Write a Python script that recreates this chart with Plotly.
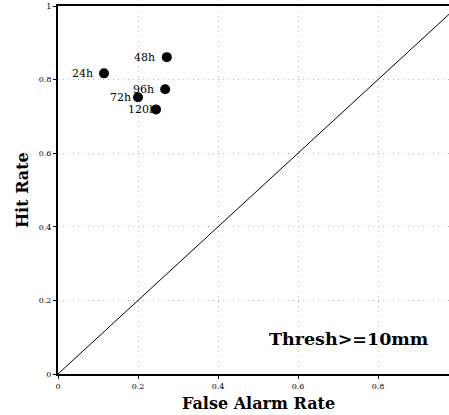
import plotly.graph_objects as go

# Forecast verification points: false alarm rate vs hit rate by lead time
lead_times = ["24h", "48h", "72h", "96h", "120h"]
false_alarm = [0.115, 0.272, 0.200, 0.268, 0.245]
hit_rate = [0.817, 0.861, 0.752, 0.774, 0.719]
label_shift = [-9, -10, -5, -9, 2]  # px offset of each label's right edge from its dot

x_ticks = [0, 0.2, 0.4, 0.6, 0.8]
y_ticks = [0, 0.2, 0.4, 0.6, 0.8, 1]

FONT = "DejaVu Serif"
GRID = dict(showgrid=True, gridcolor="#b8b8b8", griddash="1px,4px", gridwidth=1)

fig = go.Figure()

# no-skill diagonal
fig.add_trace(go.Scatter(
    x=[0, 1], y=[0, 1], mode="lines",
    line=dict(color="black", width=1), hoverinfo="skip", showlegend=False,
))

fig.add_trace(go.Scatter(
    x=false_alarm, y=hit_rate, mode="markers",
    marker=dict(color="black", size=10),
    text=lead_times, showlegend=False,
))

for lab, fx, hy, dx in zip(lead_times, false_alarm, hit_rate, label_shift):
    fig.add_annotation(
        x=fx, y=hy, text=lab, showarrow=False, xanchor="right", yanchor="middle",
        xshift=dx, font=dict(family=FONT, size=11, color="black"),
    )

fig.add_annotation(
    x=0.7275, y=0.095, text="Thresh>=10mm", showarrow=False,
    font=dict(family=FONT, size=17.5, color="black", weight="bold"),
)

# axis titles
fig.add_annotation(
    x=0.5, xref="x", y=0, yref="paper", yshift=-29, text="False Alarm Rate",
    showarrow=False, yanchor="middle",
    font=dict(family=FONT, size=16, color="black", weight="bold"),
)
fig.add_annotation(
    x=0, xref="paper", xshift=-36, y=0.5, yref="paper", text="Hit Rate",
    showarrow=False, textangle=-90, xanchor="center",
    font=dict(family=FONT, size=16, color="black", weight="bold"),
)

fig.update_layout(
    width=449, height=415,
    margin=dict(l=58, r=0, t=6, b=41),
    paper_bgcolor="white", plot_bgcolor="white",
    font=dict(family=FONT, color="black"),
    xaxis=dict(
        range=[0, 0.9775], tickvals=x_ticks, ticktext=[f"{v:g}" for v in x_ticks],
        showline=True, linecolor="black", linewidth=2, mirror=True,
        ticks="outside", ticklen=3, tickcolor="black",
        zeroline=False, tickfont=dict(family=FONT, size=8, color="black"), **GRID,
    ),
    yaxis=dict(
        range=[0, 1], tickvals=y_ticks, ticktext=[f"{v:g}" for v in y_ticks],
        showline=True, linecolor="black", linewidth=2,
        ticks="outside", ticklen=3, tickcolor="black",
        zeroline=False, tickfont=dict(family=FONT, size=8, color="black"), **GRID,
    ),
)

fig.write_html("out.html")
